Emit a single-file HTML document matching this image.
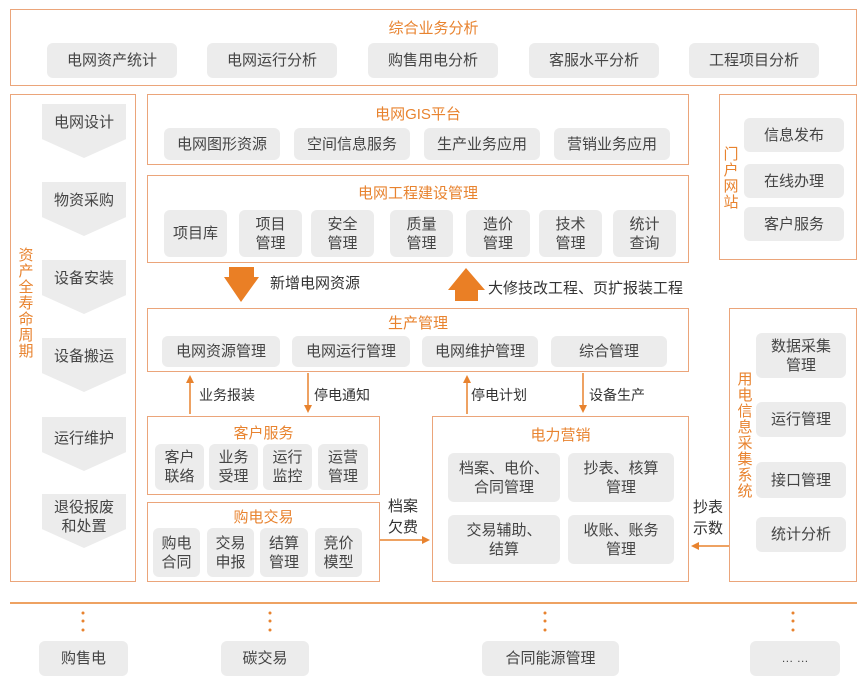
<!DOCTYPE html>
<html><head><meta charset="utf-8">
<style>
*{margin:0;padding:0;box-sizing:border-box}
body{width:867px;height:689px;background:#fff;position:relative;overflow:hidden;font-family:"Liberation Sans","Noto Sans CJK SC",sans-serif;color:#444}
.b{position:absolute;border:1.5px solid #eba57a}
.p{position:absolute;background:#ececec;border-radius:6px;display:flex;align-items:center;justify-content:center;text-align:center;font-size:15px;line-height:19px;color:#444}
.t{position:absolute;color:#e8832f;font-size:15px;text-align:center;white-space:nowrap}
.l{position:absolute;font-size:14px;color:#333;white-space:nowrap;line-height:20px}
.v{position:absolute;color:#e8832f;font-size:15px;line-height:16px;width:16px;text-align:center}
.c{position:absolute;left:42px;width:84px;height:54px;background:#ececec;clip-path:polygon(0 0,100% 0,100% 65%,50% 100%,0 65%);font-size:15px;line-height:19px;text-align:center;color:#444}
</style></head><body>
<div class="b" style="left:10px;top:9px;width:847px;height:77px"></div>
<div class="t" style="left:10px;width:847px;top:17px">综合业务分析</div>
<div class="p" style="left:47px;top:43px;width:130px;height:35px">电网资产统计</div>
<div class="p" style="left:207px;top:43px;width:130px;height:35px">电网运行分析</div>
<div class="p" style="left:368px;top:43px;width:130px;height:35px">购售用电分析</div>
<div class="p" style="left:529px;top:43px;width:130px;height:35px">客服水平分析</div>
<div class="p" style="left:689px;top:43px;width:130px;height:35px">工程项目分析</div>

<div class="b" style="left:10px;top:94px;width:126px;height:488px"></div>
<div class="v" style="left:18px;top:248px">资产全寿命周期</div>
<div class="c" style="top:104px;padding-top:9px">电网设计</div>
<div class="c" style="top:182px;padding-top:9px">物资采购</div>
<div class="c" style="top:260px;padding-top:9px">设备安装</div>
<div class="c" style="top:338px;padding-top:9px">设备搬运</div>
<div class="c" style="top:417px;padding-top:12px">运行维护</div>
<div class="c" style="top:494px;padding-top:4px">退役报废<br>和处置</div>

<div class="b" style="left:147px;top:94px;width:542px;height:71px"></div>
<div class="t" style="left:147px;width:542px;top:103px">电网GIS平台</div>
<div class="p" style="left:164px;top:128px;width:116px;height:32px">电网图形资源</div>
<div class="p" style="left:294px;top:128px;width:116px;height:32px">空间信息服务</div>
<div class="p" style="left:424px;top:128px;width:116px;height:32px">生产业务应用</div>
<div class="p" style="left:554px;top:128px;width:116px;height:32px">营销业务应用</div>

<div class="b" style="left:147px;top:175px;width:542px;height:88px"></div>
<div class="t" style="left:147px;width:542px;top:182px">电网工程建设管理</div>
<div class="p" style="left:164px;top:210px;width:63px;height:47px">项目库</div>
<div class="p" style="left:239px;top:210px;width:63px;height:47px">项目<br>管理</div>
<div class="p" style="left:311px;top:210px;width:63px;height:47px">安全<br>管理</div>
<div class="p" style="left:390px;top:210px;width:63px;height:47px">质量<br>管理</div>
<div class="p" style="left:466px;top:210px;width:64px;height:47px">造价<br>管理</div>
<div class="p" style="left:539px;top:210px;width:63px;height:47px">技术<br>管理</div>
<div class="p" style="left:613px;top:210px;width:63px;height:47px">统计<br>查询</div>

<svg style="position:absolute;left:0;top:0" width="867" height="689">
<polygon points="229,267 254,267 254,277 259,277 241,302 224,277 229,277" fill="#ea7f25"/>
<polygon points="466,268 485,290 478,290 478,301 455,301 455,290 448,290" fill="#ea7f25"/>
<g stroke="#e8832f" stroke-width="1.5" fill="#e8832f">
<line x1="190" y1="414" x2="190" y2="381"/><polygon points="186,383 194,383 190,375" stroke="none"/>
<line x1="308" y1="373" x2="308" y2="407"/><polygon points="304,405 312,405 308,413" stroke="none"/>
<line x1="467" y1="414" x2="467" y2="381"/><polygon points="463,383 471,383 467,375" stroke="none"/>
<line x1="583" y1="373" x2="583" y2="407"/><polygon points="579,405 587,405 583,413" stroke="none"/>
<line x1="380" y1="540" x2="424" y2="540"/><polygon points="422,536 422,544 430,540" stroke="none"/>
<line x1="729" y1="546" x2="697" y2="546"/><polygon points="699,542 699,550 691,546" stroke="none"/>
<line x1="10" y1="603" x2="857" y2="603" stroke-width="1.5"/>
</g>
<g fill="#e8832f">
<circle cx="83" cy="613" r="1.5"/><circle cx="83" cy="621" r="1.5"/><circle cx="83" cy="630" r="1.5"/>
<circle cx="270" cy="613" r="1.5"/><circle cx="270" cy="621" r="1.5"/><circle cx="270" cy="630" r="1.5"/>
<circle cx="545" cy="613" r="1.5"/><circle cx="545" cy="621" r="1.5"/><circle cx="545" cy="630" r="1.5"/>
<circle cx="793" cy="613" r="1.5"/><circle cx="793" cy="621" r="1.5"/><circle cx="793" cy="630" r="1.5"/>
</g>
</svg>
<div class="l" style="left:270px;top:274px;font-size:15px">新增电网资源</div>
<div class="l" style="left:488px;top:279px;font-size:15px">大修技改工程、页扩报装工程</div>

<div class="b" style="left:147px;top:308px;width:542px;height:64px"></div>
<div class="t" style="left:147px;width:542px;top:312px">生产管理</div>
<div class="p" style="left:162px;top:336px;width:118px;height:31px">电网资源管理</div>
<div class="p" style="left:292px;top:336px;width:118px;height:31px">电网运行管理</div>
<div class="p" style="left:422px;top:336px;width:116px;height:31px">电网维护管理</div>
<div class="p" style="left:551px;top:336px;width:116px;height:31px">综合管理</div>

<div class="l" style="left:199px;top:385px">业务报装</div>
<div class="l" style="left:314px;top:385px">停电通知</div>
<div class="l" style="left:471px;top:385px">停电计划</div>
<div class="l" style="left:589px;top:385px">设备生产</div>

<div class="b" style="left:147px;top:416px;width:233px;height:79px"></div>
<div class="t" style="left:147px;width:233px;top:422px">客户服务</div>
<div class="p" style="left:155px;top:444px;width:49px;height:46px">客户<br>联络</div>
<div class="p" style="left:209px;top:444px;width:49px;height:46px">业务<br>受理</div>
<div class="p" style="left:263px;top:444px;width:49px;height:46px">运行<br>监控</div>
<div class="p" style="left:318px;top:444px;width:50px;height:46px">运营<br>管理</div>

<div class="b" style="left:147px;top:502px;width:233px;height:80px"></div>
<div class="t" style="left:147px;width:233px;top:506px">购电交易</div>
<div class="p" style="left:153px;top:528px;width:47px;height:49px">购电<br>合同</div>
<div class="p" style="left:207px;top:528px;width:47px;height:49px">交易<br>申报</div>
<div class="p" style="left:260px;top:528px;width:48px;height:49px">结算<br>管理</div>
<div class="p" style="left:315px;top:528px;width:47px;height:49px">竞价<br>模型</div>

<div class="l" style="left:388px;top:496px;line-height:21px;font-size:15px">档案<br>欠费</div>

<div class="b" style="left:432px;top:416px;width:257px;height:166px"></div>
<div class="t" style="left:432px;width:257px;top:424px">电力营销</div>
<div class="p" style="left:448px;top:453px;width:112px;height:49px">档案、电价、<br>合同管理</div>
<div class="p" style="left:568px;top:453px;width:106px;height:49px">抄表、核算<br>管理</div>
<div class="p" style="left:448px;top:515px;width:112px;height:49px">交易辅助、<br>结算</div>
<div class="p" style="left:568px;top:515px;width:106px;height:49px">收账、账务<br>管理</div>

<div class="l" style="left:693px;top:497px;line-height:21px;font-size:15px">抄表<br>示数</div>

<div class="b" style="left:719px;top:94px;width:138px;height:166px"></div>
<div class="v" style="left:723px;top:147px">门户网站</div>
<div class="p" style="left:744px;top:118px;width:100px;height:34px">信息发布</div>
<div class="p" style="left:744px;top:164px;width:100px;height:34px">在线办理</div>
<div class="p" style="left:744px;top:207px;width:100px;height:34px">客户服务</div>

<div class="b" style="left:729px;top:308px;width:128px;height:274px"></div>
<div class="v" style="left:737px;top:372px">用电信息采集系统</div>
<div class="p" style="left:756px;top:333px;width:90px;height:45px">数据采集<br>管理</div>
<div class="p" style="left:756px;top:402px;width:90px;height:35px">运行管理</div>
<div class="p" style="left:756px;top:462px;width:90px;height:36px">接口管理</div>
<div class="p" style="left:756px;top:517px;width:90px;height:35px">统计分析</div>

<div class="p" style="left:39px;top:641px;width:89px;height:35px">购售电</div>
<div class="p" style="left:221px;top:641px;width:88px;height:35px">碳交易</div>
<div class="p" style="left:482px;top:641px;width:137px;height:35px">合同能源管理</div>
<div class="p" style="left:750px;top:641px;width:90px;height:35px;font-size:12px">… …</div>
</body></html>
